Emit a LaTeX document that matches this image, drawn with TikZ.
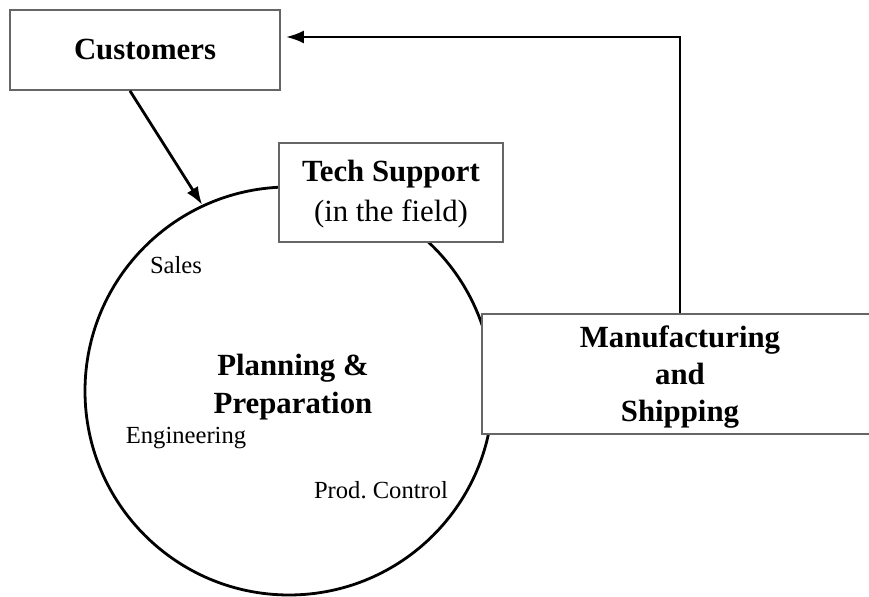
\documentclass[tikz,border=0pt]{standalone}
\usepackage{fontspec}
\setmainfont{Liberation Serif}
\usetikzlibrary{arrows.meta}

\begin{document}
\begin{tikzpicture}[x=0.5pt, y=-0.5pt,
        box/.style={rectangle, draw=gray!80!black, line width=0.9pt, fill=white, align=center, font=\fontsize{15.4}{18.5}\selectfont\bfseries},
        title/.style={align=center, font=\fontsize{15.4}{18.5}\selectfont\bfseries},
        dept/.style={font=\fontsize{12.3}{15}\selectfont},
        flow/.style={-{Latex[length=9pt,width=6.5pt]}, line width=1.4pt}
    ]
        \useasboundingbox (0,0) rectangle (869,597);

        % Central process circle
        \node[circle, draw, line width=1.4pt, minimum size=204pt, inner sep=0pt] (plan) at (289,391) {};
        \node[title, font=\fontsize{15.4}{19}\selectfont\bfseries] (plantext) at (293,387) {Planning \&\\Preparation};

        % Departments inside the circle
        \node[dept] (sales) at (176,265) {Sales};
        \node[dept] (eng) at (186,438) {Engineering};
        \node[dept] (prod) at (381,490) {Prod.\ Control};

        % Boxes
        \node[box, minimum width=135pt, minimum height=40pt] (cust) at (145,50) {Customers};
        \node[box, minimum width=112pt, minimum height=49.5pt] (tech) at (391,192.5) {};
        \node[title, font=\fontsize{15.4}{20}\selectfont\bfseries] (techtext) at (391,194) {Tech Support\\\mdseries(in the field)};
        \node[box, minimum width=198pt, minimum height=60pt] (mfg) at (680,374) {};
        \node[title] (mfgtext) at (680,377) {Manufacturing\\and\\Shipping};

        % Connections
        \draw[flow] ([xshift=-7.5pt]cust.south) -- (plan.115);
        \draw[flow, shorten >=2.5pt] (mfg.north) |- ([yshift=6.5pt]cust.east);
    \end{tikzpicture}
\end{document}
